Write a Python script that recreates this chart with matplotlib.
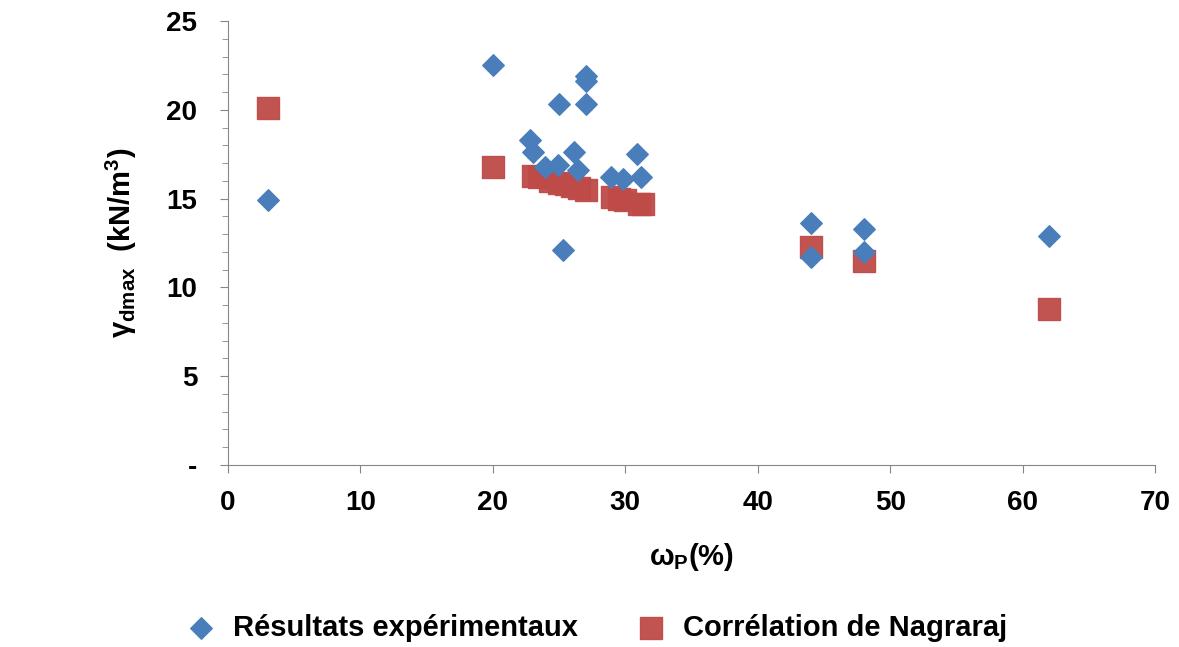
import matplotlib.pyplot as plt
from matplotlib.ticker import MultipleLocator

# Résultats expérimentaux
exp_wp = [3, 20, 27, 27, 25, 27, 22.8, 23, 26.1, 30.9, 23.9, 24.9, 26.4, 28.9, 29.8, 31.2, 25.3, 44, 44, 48, 48, 62]
exp_gd = [14.9, 22.5, 21.9, 21.6, 20.3, 20.3, 18.3, 17.6, 17.6, 17.5, 16.8, 16.9, 16.6, 16.2, 16.1, 16.2, 12.1, 13.6, 11.7, 13.3, 12.0, 12.9]

# Corrélation de Nagraraj
nag_wp = [3, 20, 23, 23.5, 24.3, 25, 25.5, 26, 26.5, 27, 29, 29.5, 30, 31, 31.3, 44, 48, 62]
nag_gd = [20.1, 16.8, 16.3, 16.2, 16.0, 15.9, 15.8, 15.7, 15.6, 15.5, 15.1, 15.0, 14.9, 14.7, 14.7, 12.3, 11.5, 8.8]

plt.rcParams['font.family'] = ['Liberation Sans', 'DejaVu Sans']
plt.rcParams['font.weight'] = 'bold'
plt.rcParams['mathtext.fontset'] = 'custom'
plt.rcParams['mathtext.bf'] = 'Liberation Sans:bold'
plt.rcParams['mathtext.rm'] = 'Liberation Sans:bold'
plt.rcParams['mathtext.default'] = 'bf'

fig = plt.figure(figsize=(11.79, 6.47), dpi=100)
ax = fig.add_axes([228/1179, 1 - 465/647, (1155-228)/1179, (465-21)/647])

ax.scatter(exp_wp, exp_gd, marker='D', s=120, color='#4a7ebb', label='Résultats expérimentaux', zorder=3)
ax.scatter(nag_wp, nag_gd, marker='s', s=250, color='#be4b48', alpha=0.95, label='Corrélation de Nagraraj', zorder=2)

ax.set_xlim(0, 70)
ax.set_ylim(0, 25)
ax.xaxis.set_major_locator(MultipleLocator(10))
ax.yaxis.set_minor_locator(MultipleLocator(1))
ax.set_yticks([0, 5, 10, 15, 20, 25])
ax.set_yticklabels(['-', '5', '10', '15', '20', '25'])
for s in ['top', 'right']:
    ax.spines[s].set_visible(False)
for s in ['left', 'bottom']:
    ax.spines[s].set_color('#868686')
ax.tick_params(axis='both', which='major', labelsize=20, color='#868686', direction='out', length=6)
ax.tick_params(axis='y', which='minor', color='#868686', length=4)
ax.tick_params(axis='x', which='major', pad=12)
ax.tick_params(axis='y', which='major', pad=16)

ax.set_xlabel(r'ω$_{P}$(%)', fontsize=21, fontweight='bold', labelpad=18)
ax.set_ylabel(r'γ$_{dmax}$  (kN/m$^{3}$)', fontsize=21, fontweight='bold', labelpad=20)

fig.legend(*ax.get_legend_handles_labels(), loc='center', bbox_to_anchor=(0.5, 1 - 628/647), ncol=2,
           frameon=False, fontsize=21, handletextpad=0.1, columnspacing=1.5, scatterpoints=1)

fig.savefig('out.png', dpi=100)
